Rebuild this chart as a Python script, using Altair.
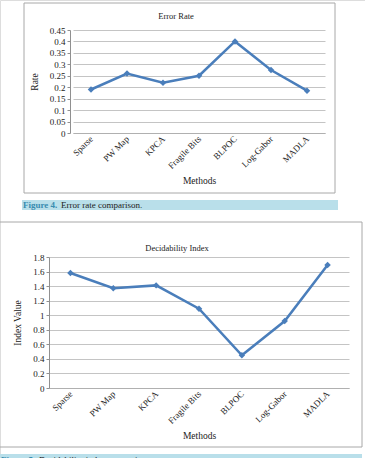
import altair as alt
import pandas as pd

# Methods compared in both figures
methods = ["Sparse", "PW Map", "KPCA", "Fragile Bits", "BLPOC", "Log-Gabor", "MADLA"]
error_rate = [0.19, 0.26, 0.22, 0.25, 0.40, 0.275, 0.185]
decidability = [1.58, 1.37, 1.41, 1.09, 0.45, 0.92, 1.69]

rate_ticks = [0, 0.05, 0.1, 0.15, 0.2, 0.25, 0.3, 0.35, 0.4, 0.45]
index_ticks = [0, 0.2, 0.4, 0.6, 0.8, 1.0, 1.2, 1.4, 1.6, 1.8]

W, H = 365, 458
FONT = "Liberation Serif"
LINE = "#4a7ebb"
GRID = "#c4c4c4"
TEXT = "#222222"

df1 = pd.DataFrame({"method": methods, "value": error_rate})
df2 = pd.DataFrame({"method": methods, "value": decidability})
one = pd.DataFrame({"k": [0]})


def panel(df, x_range, y_range, y_domain, ticks, fmt, y_title, x_axis_y, y_axis_x, ytitle_pad):
    x = alt.X(
        "method:N",
        sort=methods,
        scale=alt.Scale(type="point", domain=methods, range=x_range, padding=0.5),
        axis=alt.Axis(
            orient="bottom", offset=-(H - x_axis_y), title="Methods",
            labelAngle=-45, labelAlign="right", labelBaseline="middle",
            labelPadding=4, ticks=False, grid=False,
            domainColor="#b0b0b0", labelFont=FONT, labelFontSize=9,
            labelColor=TEXT, titleFont=FONT, titleFontSize=9.5, titleFontWeight="normal",
            titleColor=TEXT, titlePadding=5,
        ),
    )
    y = alt.Y(
        "value:Q",
        scale=alt.Scale(domain=y_domain, range=y_range, nice=False, zero=True),
        axis=alt.Axis(
            orient="left", offset=-y_axis_x, title=y_title, values=ticks, format=fmt,
            grid=True, gridColor=GRID, gridWidth=1, domainColor="#909090",
            tickColor="#909090", tickSize=3, labelPadding=2,
            labelFont=FONT, labelFontSize=9, labelColor=TEXT,
            titleFont=FONT, titleFontSize=9.5, titleFontWeight="normal",
            titleColor=TEXT, titlePadding=ytitle_pad,
        ),
    )
    base = alt.Chart(df).encode(x=x, y=y)
    return alt.layer(
        base.mark_line(color=LINE, strokeWidth=2.5),
        base.mark_point(shape="diamond", filled=True, color=LINE, size=42, opacity=1),
    )


def box(x1, x2, y1, y2):
    return alt.Chart(one).mark_rect(fill="white", fillOpacity=0, stroke="#a8a8a8", strokeWidth=1).encode(
        x=alt.value(x1), x2=alt.value(x2), y=alt.value(y1), y2=alt.value(y2)
    )


def bar(x1, x2, y1, y2):
    return alt.Chart(one).mark_rect(fill="#b9dfea").encode(
        x=alt.value(x1), x2=alt.value(x2), y=alt.value(y1), y2=alt.value(y2)
    )


def label(txt, x, y, size=9, color=TEXT, weight="normal", align="left"):
    return alt.Chart(one).mark_text(
        text=txt, font=FONT, fontSize=size, color=color, fontWeight=weight,
        align=align, baseline="alphabetic",
    ).encode(x=alt.value(x), y=alt.value(y))


decor = alt.layer(
    box(24, 335, 3, 193),
    bar(22, 338, 200, 210),
    label("Figure 4.", 23, 208, color="#3a8cb0", weight="bold"),
    label("Error rate comparison.", 61, 208),
    label("Error Rate", 176, 19, size=8.5, align="center"),
    box(-1, 362, 222, 447),
    bar(0, 362, 454, 468),
    label("Figure 5.", 1, 463, color="#3a8cb0", weight="bold"),
    label("Decidability index comparison.", 39, 463),
    label("Decidability Index", 177, 251, size=8.5, align="center"),
)

p1 = panel(df1, [73, 325], [133, 30], [0, 0.45], rate_ticks, ".2~f", "Rate", 133, 70, 10)
p2 = panel(df2, [49, 349], [388, 257], [0, 1.8], index_ticks, ".1~f", "Index Value", 388, 49, 10)

chart = (
    alt.layer(decor, p1, p2)
    .resolve_scale(x="independent", y="independent")
    .properties(width=W, height=H, autosize=alt.AutoSizeParams(type="none"), padding=0)
    .configure_view(stroke=None)
    .configure(background="white")
)

chart.save("out.html", embed_options={"renderer": "svg", "actions": False})
